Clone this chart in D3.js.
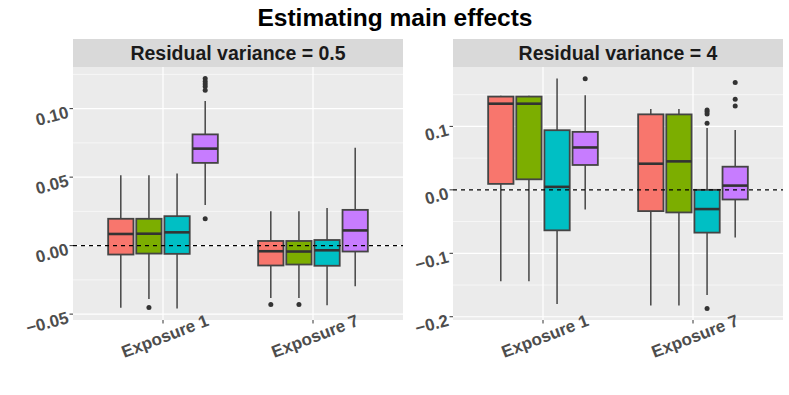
<!DOCTYPE html>
<html>
<head>
<meta charset="utf-8">
<script src="https://cdn.jsdelivr.net/npm/d3@7"></script>
<style>
  body { margin: 0; background: #fff; }
  #viz { font-family: 'Liberation Sans', Arial, Helvetica, sans-serif; }
  #viz .tick-label { font-weight: bold; fill: #4d4d4d; font-size: 17px; }
  #viz .strip-label { font-weight: bold; fill: #1a1a1a; font-size: 19.5px; }
</style>
</head>
<body>
<svg id="chart" width="789" height="395"></svg>
<script>
const panels = ['Residual variance = 0.5', 'Residual variance = 4']
const exposures = ['Exposure 1', 'Exposure 7']
const methods = ['Method A', 'Method B', 'Method C', 'Method D']
const colors = ['#F8766D', '#7CAE00', '#00BFC4', '#C77CFF']

// box stats, order: exposure 1 (4 methods) then exposure 7 (4 methods)
const lower05 = [-0.0454, -0.0390, -0.0459, 0.0297, -0.0382, -0.0382, -0.0435, -0.0297]
const q1_05 = [-0.0065, -0.0058, -0.0060, 0.0604, -0.0145, -0.0138, -0.0147, -0.0043]
const median05 = [0.0085, 0.0087, 0.0097, 0.0708, -0.0041, -0.0043, -0.0034, 0.0111]
const q3_05 = [0.0196, 0.0196, 0.0215, 0.0812, 0.0034, 0.0034, 0.0041, 0.0261]
const upper05 = [0.0514, 0.0514, 0.0527, 0.1056, 0.0251, 0.0251, 0.0275, 0.0715]
const outliers05 = [[], [-0.0452], [], [0.1220, 0.1198, 0.1180, 0.1162, 0.1135, 0.0196], [-0.0430], [-0.0430], [], []]

const lower4 = [-0.144, -0.144, -0.180, -0.031, -0.1824, -0.1824, -0.1657, -0.0752]
const q1_4 = [0.0094, 0.0166, -0.0638, 0.0392, -0.0335, -0.0356, -0.0674, -0.0152]
const median4 = [0.1358, 0.1358, 0.0047, 0.0668, 0.0412, 0.0449, -0.0303, 0.0067]
const q3_4 = [0.147, 0.147, 0.094, 0.0914, 0.119, 0.1189, 0.0, 0.0365]
const upper4 = [0.1485, 0.1485, 0.1755, 0.149, 0.1274, 0.1274, 0.0976, 0.0945]
const outliers4 = [[], [], [], [0.175], [], [], [0.126, 0.123, 0.1196, 0.105, -0.187], [0.169, 0.1426, 0.132]]

const title = 'Estimating main effects'

// build one row per box
const stats = [
  [lower05, q1_05, median05, q3_05, upper05, outliers05],
  [lower4, q1_4, median4, q3_4, upper4, outliers4],
]
const data = panels.map((panel, p) => {
  const [lo, q1, med, q3, hi, out] = stats[p]
  return exposures.flatMap((exposure, e) =>
    methods.map((method, m) => {
      const i = e * methods.length + m
      return { panel, exposure, method, color: colors[m], lo: lo[i], q1: q1[i], med: med[i], q3: q3[i], hi: hi[i], out: out[i] }
    })
  )
})

const width = 789
const height = 395
const panelLeft = [73, 453]
const panelWidth = 330
const panelTop = 67
const panelBottom = 320
const stripHeight = 28

const svg = d3.select('#chart').append('g').attr('id', 'viz')

svg.append('rect').attr('width', width).attr('height', height).attr('fill', '#fff')

svg
  .append('text')
  .attr('x', 395)
  .attr('y', 26)
  .attr('text-anchor', 'middle')
  .attr('font-size', 24.5)
  .attr('font-weight', 'bold')
  .attr('fill', '#000')
  .text(title)

data.forEach((rows, p) => {
  const x0 = panelLeft[p]
  const g = svg.append('g').attr('class', 'panel')

  const x = d3.scalePoint().domain(exposures).range([x0, x0 + panelWidth]).padding(0.6)
  const dodge = d3
    .scaleBand()
    .domain(methods)
    .range([-0.375 * x.step(), 0.375 * x.step()])
    .paddingInner(0.1)
    .paddingOuter(0.05)

  const all = rows.flatMap((d) => [d.lo, d.hi, ...d.out])
  const [mn, mx] = d3.extent(all)
  const pad = (mx - mn) * 0.05
  const y = d3.scaleLinear().domain([mn - pad, mx + pad]).range([panelBottom, panelTop])

  const major = y.ticks(5)
  const step = major[1] - major[0]
  const minor = d3.range(major[0] - step / 2, y.domain()[1], step).filter((v) => v > y.domain()[0])
  const fmt = d3.format('.' + d3.precisionFixed(step) + 'f')

  // panel background + grid
  g.append('rect')
    .attr('x', x0)
    .attr('y', panelTop)
    .attr('width', panelWidth)
    .attr('height', panelBottom - panelTop)
    .attr('fill', '#ebebeb')

  g.selectAll('line.minor')
    .data(minor)
    .join('line')
    .attr('class', 'minor')
    .attr('x1', x0)
    .attr('x2', x0 + panelWidth)
    .attr('y1', (d) => y(d))
    .attr('y2', (d) => y(d))
    .attr('stroke', '#fff')
    .attr('stroke-width', 0.6)

  g.selectAll('line.major')
    .data(major)
    .join('line')
    .attr('class', 'major')
    .attr('x1', x0)
    .attr('x2', x0 + panelWidth)
    .attr('y1', (d) => y(d))
    .attr('y2', (d) => y(d))
    .attr('stroke', '#fff')
    .attr('stroke-width', 1.2)

  g.selectAll('line.vmajor')
    .data(exposures)
    .join('line')
    .attr('class', 'vmajor')
    .attr('x1', (d) => x(d))
    .attr('x2', (d) => x(d))
    .attr('y1', panelTop)
    .attr('y2', panelBottom)
    .attr('stroke', '#fff')
    .attr('stroke-width', 1.2)

  // boxes
  const boxes = g
    .selectAll('g.box')
    .data(rows)
    .join('g')
    .attr('class', 'box')
    .attr('transform', (d) => `translate(${x(d.exposure) + dodge(d.method)},0)`)

  const bw = dodge.bandwidth()

  boxes
    .append('line')
    .attr('x1', bw / 2)
    .attr('x2', bw / 2)
    .attr('y1', (d) => y(d.lo))
    .attr('y2', (d) => y(d.q1))
    .attr('stroke', '#3a3a3a')
    .attr('stroke-width', 1.4)

  boxes
    .append('line')
    .attr('x1', bw / 2)
    .attr('x2', bw / 2)
    .attr('y1', (d) => y(d.q3))
    .attr('y2', (d) => y(d.hi))
    .attr('stroke', '#3a3a3a')
    .attr('stroke-width', 1.4)

  boxes
    .append('rect')
    .attr('x', 0)
    .attr('width', bw)
    .attr('y', (d) => y(d.q3))
    .attr('height', (d) => y(d.q1) - y(d.q3))
    .attr('fill', (d) => d.color)
    .attr('stroke', '#444')
    .attr('stroke-width', 1.8)

  boxes
    .append('line')
    .attr('x1', 0)
    .attr('x2', bw)
    .attr('y1', (d) => y(d.med))
    .attr('y2', (d) => y(d.med))
    .attr('stroke', '#333')
    .attr('stroke-width', 2.6)

  boxes
    .selectAll('circle')
    .data((d) => d.out)
    .join('circle')
    .attr('cx', bw / 2)
    .attr('cy', (d) => y(d))
    .attr('r', 2.5)
    .attr('fill', '#333')

  // reference line at zero
  g.append('line')
    .attr('x1', x0)
    .attr('x2', x0 + panelWidth)
    .attr('y1', y(0))
    .attr('y2', y(0))
    .attr('stroke', '#000')
    .attr('stroke-width', 1.1)
    .attr('stroke-dasharray', '4,4')

  // y axis
  const yTicks = g.selectAll('g.ytick').data(major).join('g').attr('class', 'ytick')
  yTicks
    .append('line')
    .attr('x1', x0 - 3.5)
    .attr('x2', x0)
    .attr('y1', (d) => y(d))
    .attr('y2', (d) => y(d))
    .attr('stroke', '#333')
  yTicks
    .append('text')
    .attr('class', 'tick-label')
    .attr('text-anchor', 'end')
    .attr('transform', (d) => `translate(${x0 - 5},${y(d) + 3}) rotate(-15)`)
    .attr('dy', '0.35em')
    .text((d) => fmt(d))

  // x axis
  const xTicks = g.selectAll('g.xtick').data(exposures).join('g').attr('class', 'xtick')
  xTicks
    .append('line')
    .attr('x1', (d) => x(d))
    .attr('x2', (d) => x(d))
    .attr('y1', panelBottom)
    .attr('y2', panelBottom + 3.5)
    .attr('stroke', '#333')
  xTicks
    .append('text')
    .attr('class', 'tick-label')
    .attr('text-anchor', 'middle')
    .attr('transform', (d) => `translate(${x(d) + 2},${panelBottom + 16}) rotate(-21)`)
    .attr('dy', '0.35em')
    .text((d) => d)

  // strip
  g.append('rect')
    .attr('x', x0)
    .attr('y', panelTop - stripHeight)
    .attr('width', panelWidth)
    .attr('height', stripHeight)
    .attr('fill', '#d9d9d9')
  g.append('text')
    .attr('class', 'strip-label')
    .attr('x', x0 + panelWidth / 2)
    .attr('y', panelTop - stripHeight / 2)
    .attr('dy', '0.36em')
    .attr('text-anchor', 'middle')
    .text(panels[p])
})
</script>
</body>
</html>
